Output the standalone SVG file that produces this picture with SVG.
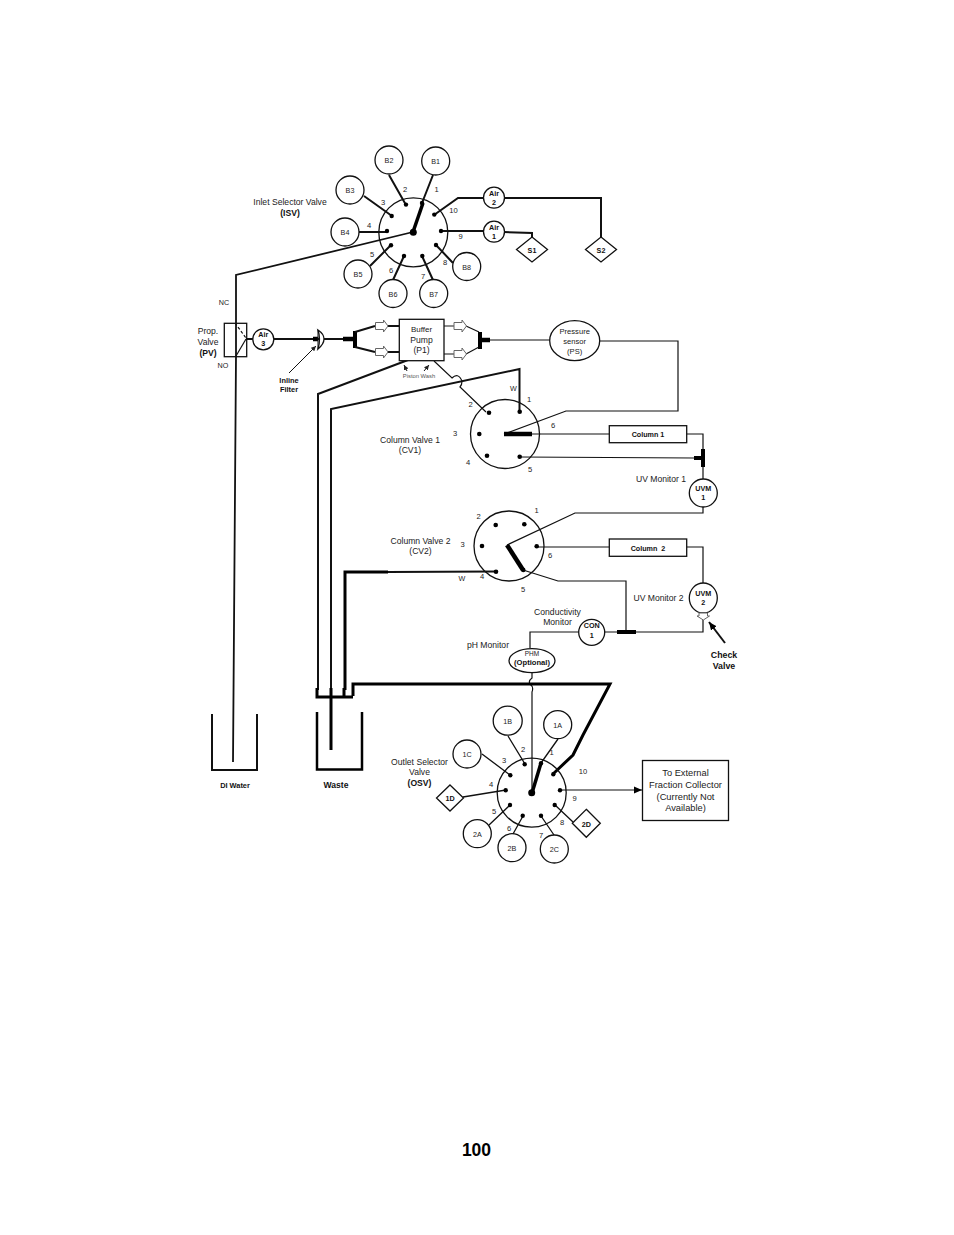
<svg xmlns="http://www.w3.org/2000/svg" width="954" height="1235" viewBox="0 0 954 1235">
<style>
text{font-family:"Liberation Sans",Arial,sans-serif;fill:#222;text-anchor:middle;white-space:pre}
.t{font-size:8.6px}.s{font-size:7.2px}.b{font-size:7.2px;font-weight:bold;fill:#111}.n{font-size:7.6px}.tb{font-size:8.6px;font-weight:bold;fill:#111}
.c{fill:#fff;stroke:#111;stroke-width:1.3}
.l{fill:none;stroke:#111;stroke-width:1.2}
.m{fill:none;stroke:#111;stroke-width:2}
.h{fill:none;stroke:#000;stroke-width:3;stroke-linejoin:miter}
.x{fill:none;stroke:#000;stroke-width:4.5}
.d{fill:#000}
.oa{fill:#fff;stroke:#666;stroke-width:1}
</style>
<defs>
<path id="oa" class="oa" d="M0-3.500H8V-6L12.500 0 8 6V3.500H0Z"/>
<marker id="ar" markerUnits="userSpaceOnUse" markerWidth="8" markerHeight="8" refX="8" refY="4" orient="auto"><path d="M0 0.500L8 4 0 7.500Z" fill="#000"/></marker>
<marker id="sm" markerUnits="userSpaceOnUse" markerWidth="5" markerHeight="5" refX="5" refY="2.500" orient="auto"><path d="M0 0L5 2.500 0 5Z" fill="#222"/></marker>
</defs>
<g id="connectors">
<path class="m" style="stroke-width:1.800" d="M413 232L236 275V356L233 762"/>
<path class="m" d="M389 175L406 205M433 175L422 203M364 196L392 216M359 232H387M370 266L391 245M393 280L404 256M433 280L422 256M453 263L436 245"/>
<path class="m" d="M434 215L458 198H483M441 231H483M504 232L532 233V237M504 198H601V237"/>
<path class="x" style="stroke-width:3.500" d="M413 232L423 203"/>
<path class="m" d="M246 339H253"/>
<path class="m" d="M274 339H343"/>
<path class="x" d="M313 339H318M343 339H355"/>
<path class="x" style="stroke-width:4" d="M355 331V348"/>
<path class="m" d="M355 332L375 326M355 347L375 352M388 326H399M388 352H399"/>
<path class="l" style="stroke:#666;stroke-width:1.500" d="M444 326H454"/>
<path class="l" d="M444 354H454M466 326L479 332M466 354L479 347"/>
<path class="x" style="stroke-width:4" d="M480 332V349"/>
<path class="x" d="M480 340H490"/>
<path class="l" d="M490 340H550M600 341H678V411H566L504 434"/>
<path class="m" d="M408 360L318 394V690"/>
<path class="m" d="M331 690V409L519.500 369V412"/>
<path class="l" d="M434 361L452 378Q458 372 462 381Q462 385 460 387L486 412"/>
<path class="x" d="M504 434H532"/>
<path class="l" d="M532 434H609M687 434H703V450M520 457L694 458M703 467V481M703 507V513H575L507 545"/>
<path class="x" style="stroke-width:4" d="M694 458H703M703 449V467"/>
<path class="x" d="M507 545L523 570"/>
<path class="l" d="M523 570L558 581H626V632M537 547H609M687 547H703V583M605 632H703V620M579 632H530V648M532 673V678Q528 681 530 684Q534 687 532 692V793"/>
<path class="x" style="stroke-width:4" d="M617 632H636"/>
<path class="m" d="M388 572L496 571.500"/>
<path class="h" d="M388 572H345V690"/>
<path class="h" d="M353 696V684H610L583 735 573 755 553 774"/>
<path class="h" d="M317 688V697H353"/>
<path class="h" d="M344 688V697"/>
<path class="x" style="stroke-width:3" d="M331 688V750"/>
<path class="l" style="stroke-width:1.300" d="M508 736L525 764M558 739L541 763M482 754L510 775M463 797L506 790M489 825L510 805M513 834L523 816M554 835L541 816M573 822L555 805"/>
<path class="l" d="M560 790H642" marker-end="url(#ar)"/>
<path class="x" style="stroke-width:3.500" d="M532 793L541 763"/>
<path class="m" d="M212 714V770H257V714"/>
<path class="h" d="M317 712V769.500H362V712" style="stroke-width:2.500"/>
<path class="l" style="stroke-width:1" d="M289 373L316 346" marker-end="url(#sm)"/>
<path class="l" style="stroke-width:1" d="M407 371L404 365" marker-end="url(#sm)"/>
<path class="l" style="stroke-width:1" d="M424 371L429 365" marker-end="url(#sm)"/>
<path class="m" d="M725 643L709 622" marker-end="url(#ar)"/>
<path d="M235 323L246 338" class="l" stroke-dasharray="3 2"/>
</g>
<g id="isv"><circle class="c" style="fill:none" cx="413.300" cy="232.300" r="34.500"/>
<g class="d"><circle cx="413.300" cy="232.300" r="3.500"/><circle cx="422" cy="203" r="2.200"/><circle cx="406" cy="204.600" r="2.200"/><circle cx="391.700" cy="216" r="2.200"/><circle cx="387" cy="231" r="2.200"/><circle cx="391" cy="245.300" r="2.200"/><circle cx="404" cy="256" r="2.200"/><circle cx="422.300" cy="256" r="2.200"/><circle cx="436" cy="245" r="2.200"/><circle cx="441" cy="231" r="2.200"/><circle cx="434.300" cy="214.600" r="2.200"/></g>
<text class="t" x="290" y="205">Inlet Selector Valve</text><text class="tb" x="290" y="216">(ISV)</text>
<g class="n"><text class="n" x="436.500" y="192">1</text><text class="n" x="405" y="192">2</text><text class="n" x="383" y="205">3</text><text class="n" x="369" y="228">4</text><text class="n" x="372" y="257">5</text><text class="n" x="391" y="273">6</text><text class="n" x="423" y="279">7</text><text class="n" x="445" y="265">8</text><text class="n" x="460.500" y="239">9</text><text class="n" x="453.500" y="213">10</text></g></g>
<g id="b1"><circle class="c" cx="435.700" cy="161" r="14"/><text class="s" x="435.700" y="164">B1</text></g>
<g id="b2"><circle class="c" cx="389" cy="160" r="14"/><text class="s" x="389" y="163">B2</text></g>
<g id="b3"><circle class="c" cx="350" cy="190" r="14"/><text class="s" x="350" y="193">B3</text></g>
<g id="b4"><circle class="c" cx="345" cy="232" r="14"/><text class="s" x="345" y="235">B4</text></g>
<g id="b5"><circle class="c" cx="358" cy="274" r="14"/><text class="s" x="358" y="277">B5</text></g>
<g id="b6"><circle class="c" cx="393" cy="293.500" r="14"/><text class="s" x="393" y="296.500">B6</text></g>
<g id="b7"><circle class="c" cx="433.700" cy="293.500" r="14"/><text class="s" x="433.700" y="296.500">B7</text></g>
<g id="b8"><circle class="c" cx="466.700" cy="266.500" r="14"/><text class="s" x="466.700" y="269.500">B8</text></g>
<g id="air2"><circle class="c" cx="494" cy="197.700" r="10.500"/><text class="b" x="494" y="195.500">Air</text><text class="b" x="494" y="204.500">2</text></g>
<g id="air1"><circle class="c" cx="494" cy="231.700" r="10.500"/><text class="b" x="494" y="230">Air</text><text class="b" x="494" y="239">1</text></g>
<g id="s1"><path class="c" d="M532 237L547.500 249.500 532 262 516.500 249.500Z"/><text class="b" x="532" y="252.500">S1</text></g>
<g id="s2"><path class="c" d="M601 237L616.500 249.500 601 262 585.500 249.500Z"/><text class="b" x="601" y="252.500">S2</text></g>
<g id="pv"><rect class="c" style="fill:none" x="224.300" y="323.300" width="22.400" height="33.400"/><path class="l" d="M246 339L236 356"/>
<text class="s" x="224" y="305">NC</text><text class="t" x="208" y="334">Prop.</text><text class="t" x="208" y="345">Valve</text><text class="tb" x="208" y="356">(PV)</text><text class="s" x="223" y="368">NO</text></g>
<g id="air3"><circle class="c" cx="263.300" cy="339.300" r="10.500"/><text class="b" x="263.300" y="336.500">Air</text><text class="b" x="263.300" y="346">3</text></g>
<g id="filter"><path d="M318 330Q324 334 324 339Q324 344 318 349Q321 339 318 330Z" fill="#fff" stroke="#111" stroke-width="1.300"/><path d="M318 330V349" stroke="#111" stroke-width="1"/><text class="b" style="font-size:7.400px" x="289" y="383">Inline</text><text class="b" style="font-size:7.400px" x="289" y="392">Filter</text></g>
<g id="pump"><rect class="c" x="399.300" y="319.300" width="44.700" height="41.400"/><text class="t" style="font-size:8px" x="421.500" y="332">Buffer</text><text class="t" x="421.500" y="342.500">Pump</text><text class="t" x="421.500" y="353">(P1)</text><text style="font-size:5.800px;fill:#555" x="419" y="378">Piston Wash</text>
<use href="#oa" x="375.500" y="326"/><use href="#oa" x="375.500" y="352"/><use href="#oa" x="454" y="326"/><use href="#oa" x="454" y="354"/></g>
<g id="ps"><ellipse class="c" cx="574.700" cy="340.700" rx="25" ry="20"/><text class="s" style="font-size:7.600px" x="574.700" y="333.500">Pressure</text><text class="s" style="font-size:7.600px" x="574.700" y="343.500">sensor</text><text class="s" style="font-size:7.600px" x="574.700" y="353.500">(PS)</text></g>
<g id="cv1"><circle class="c" style="fill:none" cx="505" cy="434" r="34.500"/>
<g class="d"><circle cx="519.700" cy="411.700" r="2.300"/><circle cx="489" cy="412.700" r="2.300"/><circle cx="479.300" cy="434" r="2.300"/><circle cx="487" cy="455.700" r="2.300"/><circle cx="519.700" cy="456.700" r="2.300"/></g>
<text class="t" x="410" y="443">Column Valve 1</text><text class="t" x="410" y="453">(CV1)</text>
<text class="n" x="529" y="402">1</text><text class="n" x="470.500" y="407">2</text><text class="n" x="455" y="436">3</text><text class="n" x="468" y="465">4</text><text class="n" x="530" y="472">5</text><text class="n" x="553" y="428">6</text><text class="s" x="513.500" y="391">W</text></g>
<g id="column1"><rect class="c" x="609.300" y="425.700" width="77.400" height="17"/><text class="b" x="648" y="437">Column 1</text></g>
<g id="uvm1"><circle class="c" cx="703.300" cy="493" r="14"/><text class="b" x="703.300" y="491">UVM</text><text class="b" x="703.300" y="500">1</text><text class="t" x="661" y="482">UV Monitor 1</text></g>
<g id="cv2"><circle class="c" style="fill:none" cx="509" cy="546" r="35"/>
<g class="d"><circle cx="524.300" cy="524.300" r="2.300"/><circle cx="495.700" cy="525" r="2.300"/><circle cx="482" cy="546" r="2.300"/><circle cx="496" cy="571.700" r="2.300"/><circle cx="523.300" cy="570" r="2.300"/><circle cx="536.700" cy="546.300" r="2.300"/></g>
<text class="t" x="420.500" y="544">Column Valve 2</text><text class="t" x="420.500" y="554">(CV2)</text>
<text class="n" x="536.500" y="513">1</text><text class="n" x="478.500" y="519">2</text><text class="n" x="462.500" y="547">3</text><text class="n" x="482" y="579">4</text><text class="n" x="523" y="592">5</text><text class="n" x="550" y="558">6</text><text class="s" x="462" y="581">W</text></g>
<g id="column2"><rect class="c" x="609.300" y="539" width="77.400" height="17.300"/><text class="b" x="648" y="550.500">Column  2</text></g>
<g id="uvm2"><ellipse class="c" cx="703.300" cy="598" rx="14" ry="15"/><text class="b" x="703.300" y="595.500">UVM</text><text class="b" x="703.300" y="604.500">2</text><text class="t" x="658.500" y="600.500">UV Monitor 2</text></g>
<g id="check"><path class="oa" d="M699 613H707.500V616H709.500L703.300 620 697 616H699Z"/><text class="tb" style="font-size:8.800px" x="724" y="657.500">Check</text><text class="tb" style="font-size:8.800px" x="724" y="668.500">Valve</text></g>
<g id="con"><circle class="c" cx="591.700" cy="632.300" r="13"/><text class="b" x="591.700" y="628">CON</text><text class="b" x="591.700" y="637.500">1</text><text class="t" x="557.500" y="614.500">Conductivity</text><text class="t" x="557.500" y="625">Monitor</text></g>
<g id="phm"><ellipse class="c" cx="532" cy="660.700" rx="23" ry="12"/><text class="s" x="532" y="655.500" style="font-size:6.500px">PHM</text><text class="b" style="font-size:7.600px" x="532" y="665">(Optional)</text><text class="t" x="488" y="647.500">pH Monitor</text></g>
<g id="di"><text class="b" style="font-size:7.400px" x="235" y="788">DI Water</text></g>
<g id="waste"><text class="tb" x="336" y="788">Waste</text></g>
<g id="osv"><circle class="c" style="fill:none" cx="531.700" cy="792.700" r="34.500"/>
<g class="d"><circle cx="531.700" cy="792.700" r="3.500"/><circle cx="541" cy="763.300" r="2.200"/><circle cx="524.700" cy="764.300" r="2.200"/><circle cx="510.300" cy="775.300" r="2.200"/><circle cx="505.700" cy="790.300" r="2.200"/><circle cx="510" cy="805" r="2.200"/><circle cx="522.700" cy="815.700" r="2.200"/><circle cx="541" cy="815.700" r="2.200"/><circle cx="554.700" cy="805" r="2.200"/><circle cx="560" cy="790.300" r="2.200"/><circle cx="553.300" cy="774.300" r="2.200"/></g>
<text class="t" x="419.500" y="764.500">Outlet Selector</text><text class="t" x="419.500" y="775">Valve</text><text class="tb" x="419.500" y="785.500">(OSV)</text>
<text class="n" x="551.500" y="755">1</text><text class="n" x="523" y="752">2</text><text class="n" x="504" y="763">3</text><text class="n" x="491" y="787">4</text><text class="n" x="494" y="814">5</text><text class="n" x="509" y="831">6</text><text class="n" x="541" y="838">7</text><text class="n" x="562" y="825">8</text><text class="n" x="574.500" y="801">9</text><text class="n" x="583" y="774">10</text></g>
<g id="n1a"><circle class="c" cx="557.700" cy="724.700" r="14"/><text class="s" x="557.700" y="727.500">1A</text></g>
<g id="n1b"><circle class="c" cx="507.700" cy="720.700" r="14.500"/><text class="s" x="507.700" y="723.500">1B</text></g>
<g id="n1c"><circle class="c" cx="467" cy="754" r="14"/><text class="s" x="467" y="757">1C</text></g>
<g id="n1d"><path class="c" d="M450 785L463.500 798 450 811 436.500 798Z"/><text class="b" x="450" y="801">1D</text></g>
<g id="n2a"><circle class="c" cx="477.300" cy="833.700" r="14"/><text class="s" x="477.300" y="836.500">2A</text></g>
<g id="n2b"><circle class="c" cx="512" cy="847.700" r="14"/><text class="s" x="512" y="850.500">2B</text></g>
<g id="n2c"><circle class="c" cx="554.300" cy="849" r="14"/><text class="s" x="554.300" y="852">2C</text></g>
<g id="n2d"><path class="c" d="M586.300 809.300L600.300 823.300 586.300 837.300 572.300 823.300Z"/><text class="b" x="586.300" y="826.500">2D</text></g>
<g id="fraction"><rect class="c" x="642.500" y="760.500" width="86" height="60"/><text class="t" style="font-size:9.300px" x="685.500" y="776">To External</text><text class="t" style="font-size:9.300px" x="685.500" y="788">Fraction Collector</text><text class="t" style="font-size:9.300px" x="685.500" y="799.500">(Currently Not</text><text class="t" style="font-size:9.300px" x="685.500" y="811">Available)</text></g>
<text x="476.500" y="1156" style="font-size:17.500px;font-weight:bold;fill:#000">100</text>
</svg>
